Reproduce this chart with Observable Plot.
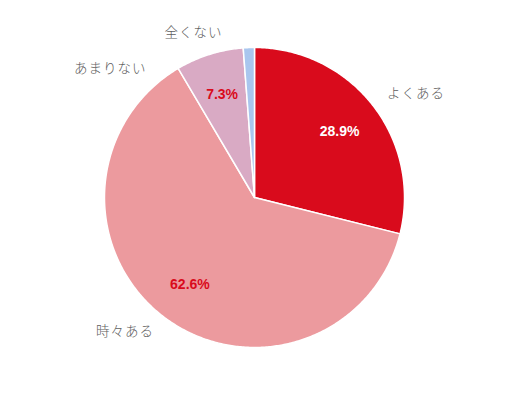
<!DOCTYPE html>
<html>
<head>
<meta charset="utf-8">
<script src="https://cdn.jsdelivr.net/npm/d3@7"></script>
<script src="https://cdn.jsdelivr.net/npm/@observablehq/plot@0.6"></script>
<style>
  html, body { margin: 0; padding: 0; background: #ffffff; }
  #chart { width: 512px; height: 400px; }
</style>
</head>
<body>
<div id="chart"></div>
<script>
// ---- data ----
const categories = ["よくある", "時々ある", "あまりない", "全くない"];
const values = [28.9, 62.6, 7.3, 1.2];
const colors = ["#d90b1c", "#ec9a9e", "#d9aac4", "#a9c6ee"];

// ---- layout from the data (unit circle, clockwise from 12 o'clock) ----
const arcs = d3.pie().sort(null).value(d => d.value)(
  categories.map((c, i) => ({cat: c, value: values[i]}))
);

const pts = [];
arcs.forEach(a => {
  const cat = a.data.cat;
  pts.push({cat, x: 0, y: 0});
  const n = Math.max(2, Math.ceil((a.endAngle - a.startAngle) / 0.01));
  for (let k = 0; k <= n; k++) {
    const t = a.startAngle + (a.endAngle - a.startAngle) * k / n;
    pts.push({cat, x: Math.sin(t), y: Math.cos(t)});
  }
  pts.push({cat, x: 0, y: 0});
});

const mid = a => (a.startAngle + a.endAngle) / 2;

// percentage labels only for slices big enough to hold them
const pctLabels = arcs.filter(a => a.data.value >= 3).map(a => ({
  text: a.data.value.toFixed(1) + "%",
  x: 0.72 * Math.sin(mid(a)),
  y: 0.72 * Math.cos(mid(a)),
  first: a.index === 0
}));

// outer category labels: mid angle, spread so neighbours near the top do not collide
let ang = arcs.map(mid);
const maxA = 349 * Math.PI / 180, gap = 29 * Math.PI / 180;
for (let i = ang.length - 1; i >= 0; i--) {
  if (i === ang.length - 1) ang[i] = Math.min(ang[i], maxA);
  else ang[i] = Math.min(ang[i], ang[i + 1] - gap);
}
const catLabels = arcs.map((a, i) => ({
  text: a.data.cat,
  x: 1.12 * Math.sin(ang[i]),
  y: 1.12 * Math.cos(ang[i]),
  right: ang[i] < Math.PI
}));

const R = 150;
const pctFont = "Liberation Sans, Arial, sans-serif";
const catFont = "Noto Sans CJK JP, sans-serif";
const plot = Plot.plot({
  width: 512,
  height: 400,
  margin: 0,
  x: {domain: [-254 / R, 258 / R], axis: null},
  y: {domain: [-203 / R, 197 / R], axis: null},
  color: {domain: categories, range: colors},
  style: {background: "#ffffff"},
  marks: [
    Plot.line(pts, {x: "x", y: "y", z: "cat", fill: "cat", stroke: "#ffffff", strokeWidth: 1.5, strokeLinejoin: "round"}),
    Plot.text(pctLabels.filter(d => d.first), {x: "x", y: "y", text: "text", fill: "#ffffff",
      fontSize: 14, fontWeight: "bold", fontFamily: pctFont}),
    Plot.text(pctLabels.filter(d => !d.first), {x: "x", y: "y", text: "text", fill: "#d90b1c",
      fontSize: 14, fontWeight: "bold", fontFamily: pctFont}),
    Plot.text(catLabels.filter(d => d.right), {x: "x", y: "y", text: "text", textAnchor: "start",
      fill: "#606060", fontSize: 13.5, fontWeight: 300, fontFamily: catFont}),
    Plot.text(catLabels.filter(d => !d.right), {x: "x", y: "y", text: "text", textAnchor: "end",
      fill: "#606060", fontSize: 13.5, fontWeight: 300, fontFamily: catFont})
  ]
});
plot.querySelectorAll("g[font-family*='Noto']").forEach(g => g.style.letterSpacing = "1px");
document.getElementById("chart").appendChild(plot);
</script>
</body>
</html>
